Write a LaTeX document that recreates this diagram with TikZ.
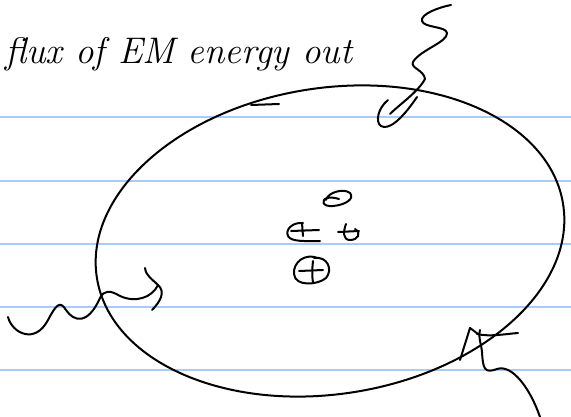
\documentclass[tikz,border=0pt]{standalone}
\usetikzlibrary{calc}
\definecolor{rule}{RGB}{168,204,250}
\tikzset{
  ink/.style={line width=2pt, line cap=round, line join=round, black},
  ruled/.style={line width=1.3pt, rule},
}
\begin{document}
\begin{tikzpicture}[x=1pt,y=-1pt]
\useasboundingbox (0,0) rectangle (571,417);
% ruled lines
\foreach \yy/\nm in {117/a,181/b,244/c,307/d,370/e}{
  \coordinate (L\nm) at (0,\yy);
  \coordinate (R\nm) at (571,\yy);
  \draw[ruled] (L\nm) -- (R\nm);
}
% title
\node[anchor=base west, inner sep=0pt, font=\fontsize{37}{42}\selectfont\itshape] (title) at (5,64) {flux of EM energy out};
% ellipse (surface)
\coordinate (e) at (330,241);
\draw[ink, rotate around={9:(e)}] (e) ellipse [x radius=236pt, y radius=153pt];
% small arrow mark on ellipse top-left
\coordinate (t1) at (279,104);
\coordinate (t2) at (251,105);
\draw[ink] (t1) -- (t2);
% top squiggle (outgoing wave)
\coordinate (s0) at (451,5);
\coordinate (s1) at (447,33);
\coordinate (s2) at (425,79);
\coordinate (s3) at (390,114);
\draw[ink] (s0) .. controls (440,7) and (420,14) .. (422,21)
  .. controls (424,28) and (446,26) .. (s1)
  .. controls (448,42) and (420,50) .. (413,62)
  .. controls (410,68) and (424,70) .. (s2)
  .. controls (418,92) and (400,104) .. (s3);
\coordinate (h0) at (388,100);
\coordinate (h1) at (417,97);
\draw[ink] (h0) .. controls (378,108) and (375,122) .. (381,126)
  .. controls (388,130) and (400,122) .. (h1);
% left squiggle (incoming wave)
\coordinate (w0) at (8,317);
\coordinate (w1) at (152,310);
\draw[ink] (w0) .. controls (12,333) and (35,345) .. (48,320)
  .. controls (56,305) and (60,300) .. (66,310)
  .. controls (74,322) and (88,325) .. (100,298)
  .. controls (104,290) and (110,290) .. (120,296)
  .. controls (135,303) and (152,298) .. (158,285)
  .. controls (166,292) and (160,302) .. (w1);
\draw[ink] (145,268) .. controls (146,276) and (152,279) .. (158,285);
% bottom-right arrow
\coordinate (b0) at (540,417);
\coordinate (b1) at (470,328);
\draw[ink] (b0) .. controls (530,388) and (512,364) .. (497,369)
  .. controls (484,374) and (483,368) .. (482,352)
  .. controls (481,342) and (478,338) .. (480,330);
\draw[ink] (460,360) -- (b1) -- (478,334);
\draw[ink] (477,334) .. controls (490,337) and (505,334) .. (518,333);
% charges
\coordinate (q0) at (337,199);
\draw[ink] (326,200) .. controls (328,192) and (344,188) .. (350,193)
  .. controls (355,199) and (345,205) .. (333,206)
  .. controls (322,207) and (321,200) .. (327,198)
  .. controls (331,197) and (336,198) .. (339,199);
\coordinate (q1) at (303,232);
\draw[ink] (303,223) .. controls (292,222) and (285,230) .. (288,236)
  .. controls (291,242) and (305,241) .. (320,241);
\draw[ink] (291,231) -- (319,230);
\draw[ink] (302,223) -- (303,236);
\coordinate (q2) at (349,232);
\draw[ink] (338,232) -- (359,231);
\draw[ink] (346,224) .. controls (343,232) and (343,240) .. (350,240)
  .. controls (358,240) and (362,233) .. (355,229);
\coordinate (q3) at (312,270);
\draw[ink] (318,258) .. controls (305,253) and (293,262) .. (294,274)
  .. controls (295,287) and (318,285) .. (326,278)
  .. controls (333,270) and (328,256) .. (314,258);
\draw[ink] (299,271) -- (323,270);
\draw[ink] (313,261) .. controls (312,270) and (312,276) .. (313,283);
\end{tikzpicture}
\end{document}
